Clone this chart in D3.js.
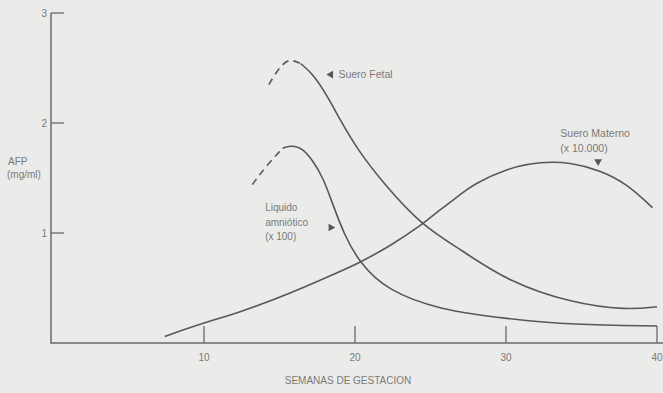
<!DOCTYPE html>
<html>
<head>
<meta charset="utf-8">
<script src="https://cdn.jsdelivr.net/npm/d3@7"></script>
<style>
  body { margin: 0; background: #ebebe9; }
  svg { display: block; }
  text { font-family: "Liberation Sans", Arial, sans-serif; fill: #7a7a7a; }
</style>
</head>
<body>
<svg id="svg"></svg>
<script>
// weeks of gestation / AFP values
var maternoWeeks = [7.4, 9.9, 12.4, 15.7, 19.0, 20.3, 22.3, 24.4, 25.6, 27.0, 27.8, 30.1, 32.3, 34.4, 36.2, 38.0, 39.7];
var maternoVals  = [0.06, 0.18, 0.28, 0.45, 0.65, 0.73, 0.88, 1.07, 1.21, 1.35, 1.44, 1.59, 1.65, 1.64, 1.57, 1.45, 1.23];

var fetalDashWeeks = [14.3, 14.9, 15.5, 15.9, 16.4];
var fetalDashVals  = [2.35, 2.49, 2.57, 2.57, 2.54];
var fetalWeeks = [16.4, 17.2, 18.2, 19.0, 20.2, 21.9, 24.4, 27.0, 30.1, 34.4, 38.0, 40.0];
var fetalVals  = [2.54, 2.45, 2.24, 2.03, 1.75, 1.45, 1.07, 0.85, 0.56, 0.36, 0.30, 0.33];

var amnioDashWeeks = [13.2, 14.0, 15.2];
var amnioDashVals  = [1.44, 1.59, 1.77];
var amnioWeeks = [15.2, 15.6, 16.0, 16.5, 17.2, 17.9, 18.5, 19.3, 20.3, 22.1, 25.6, 30.1, 34.4, 40.0];
var amnioVals  = [1.77, 1.79, 1.79, 1.77, 1.66, 1.50, 1.27, 0.98, 0.73, 0.48, 0.30, 0.22, 0.165, 0.155];

var xTicks = [10, 20, 30, 40];
var yTicks = [1, 2, 3];

var width = 663, height = 393;
var svg = d3.select("#svg").attr("width", width).attr("height", height);

var x = d3.scaleLinear().domain([0, 40]).range([53, 657]);
var y = d3.scaleLinear().domain([0, 3]).range([343, 13]);

var lineColor = "#585858";

function zip(ws, vs) { return ws.map(function(w, i) { return [w, vs[i]]; }); }

var line = d3.line()
    .x(function(d) { return x(d[0]); })
    .y(function(d) { return y(d[1]); })
    .curve(d3.curveBasis);

// axes
svg.append("line")
    .attr("x1", 51).attr("x2", 51)
    .attr("y1", y(3)).attr("y2", y(0))
    .attr("stroke", "#6a6a6a").attr("stroke-width", 1.5);
svg.append("line")
    .attr("x1", 50.25).attr("x2", width)
    .attr("y1", y(0)).attr("y2", y(0))
    .attr("stroke", "#6a6a6a").attr("stroke-width", 1.5);

var yt = svg.append("g").selectAll("g").data(yTicks).enter().append("g");
yt.append("line")
    .attr("x1", 51).attr("x2", 64)
    .attr("y1", function(d) { return y(d); }).attr("y2", function(d) { return y(d); })
    .attr("stroke", "#6a6a6a").attr("stroke-width", 1.3);
yt.append("text")
    .attr("x", 47).attr("y", function(d) { return y(d) + 3.5; })
    .attr("text-anchor", "end").attr("font-size", 10)
    .text(function(d) { return d; });

var xt = svg.append("g").selectAll("g").data(xTicks).enter().append("g");
xt.append("line")
    .attr("x1", function(d) { return x(d); }).attr("x2", function(d) { return x(d); })
    .attr("y1", y(0)).attr("y2", y(0) - 17)
    .attr("stroke", "#6a6a6a").attr("stroke-width", 1.3);
xt.append("text")
    .attr("x", function(d) { return x(d); }).attr("y", 361)
    .attr("text-anchor", "middle").attr("font-size", 10)
    .text(function(d) { return d; });

svg.append("text")
    .attr("x", 348).attr("y", 384)
    .attr("text-anchor", "middle").attr("font-size", 10)
    .text("SEMANAS DE GESTACION");

svg.append("text").attr("x", 8).attr("y", 165).attr("font-size", 10).text("AFP");
svg.append("text").attr("x", 7).attr("y", 178).attr("font-size", 10).text("(mg/ml)");

// curves
var solid = [zip(maternoWeeks, maternoVals), zip(fetalWeeks, fetalVals), zip(amnioWeeks, amnioVals)];
var dashed = [zip(fetalDashWeeks, fetalDashVals), zip(amnioDashWeeks, amnioDashVals)];

svg.append("g").selectAll("path").data(solid).enter().append("path")
    .attr("d", line)
    .attr("fill", "none").attr("stroke", lineColor).attr("stroke-width", 1.6);
svg.append("g").selectAll("path").data(dashed).enter().append("path")
    .attr("d", line)
    .attr("fill", "none").attr("stroke", lineColor).attr("stroke-width", 1.6)
    .attr("stroke-dasharray", "7,5");

// annotations
var tri = d3.symbol().type(d3.symbolTriangle).size(26);
function marker(px, py, rot) {
  svg.append("path").attr("d", tri)
      .attr("transform", "translate(" + px + "," + py + ") rotate(" + rot + ")")
      .attr("fill", "#555");
}

marker(x(18.4), y(2.44), -90);
svg.append("text").attr("x", x(18.9)).attr("y", y(2.41)).attr("font-size", 10.5).text("Suero Fetal");

marker(x(18.4), y(1.05), 90);
svg.append("g").selectAll("text").data(["Liquido", "amniótico", "(x 100)"]).enter().append("text")
    .attr("x", x(14.05)).attr("y", function(d, i) { return y(1.2) + i * 14.5; })
    .attr("font-size", 10).text(function(d) { return d; });

marker(x(36.1), y(1.65), 180);
svg.append("text").attr("x", x(33.6)).attr("y", y(1.87)).attr("font-size", 10.5).text("Suero Materno");
svg.append("text").attr("x", x(33.6)).attr("y", y(1.74)).attr("font-size", 10.5).text("(x 10.000)");
</script>
</body>
</html>
